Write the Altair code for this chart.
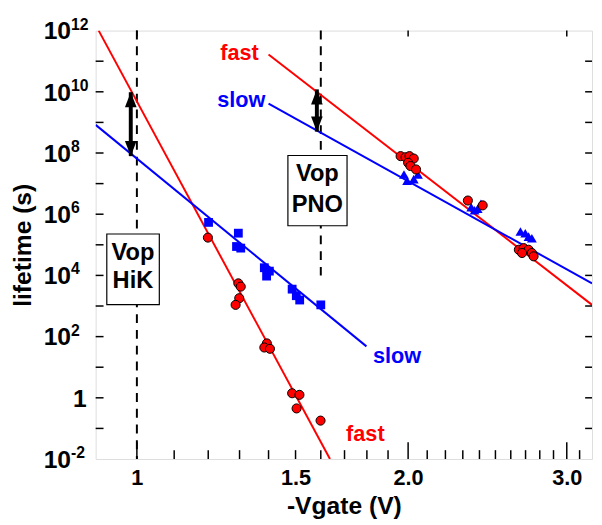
import altair as alt
import pandas as pd

# ---------------- data ----------------
fast_lo_x = [1.199, 1.296, 1.304, 1.299, 1.287, 1.394, 1.385, 1.405, 1.487, 1.515, 1.504, 1.599]
fast_lo_y = [1.72e5, 5.5e3, 4.3e3, 1.8e3, 1.09e3, 60, 44, 40, 1.41, 1.25, 0.45, 0.18]
slow_lo_x = [1.201, 1.296, 1.290, 1.304, 1.385, 1.403, 1.393, 1.487, 1.503, 1.516, 1.600]
slow_lo_y = [5.4e5, 2.4e5, 8.8e4, 7.8e4, 1.78e4, 1.38e4, 9.5e3, 3.56e3, 2.17e3, 1.57e3, 1.09e3]
fast_hi_x = [1.962, 1.987, 2.007, 2.029, 2.000, 2.012, 2.041, 2.330, 2.420,
             2.654, 2.687, 2.721, 2.744, 2.676, 2.756]
fast_hi_y = [7.9e7, 7.3e7, 7.9e7, 6.6e7, 4.8e7, 3.76e7, 2.9e7, 2.8e6, 1.94e6,
             6.9e4, 7.8e4, 6.9e4, 5.4e4, 5.4e4, 4.2e4]
slow_hi_x = [1.979, 1.995, 2.051, 2.029, 2.350, 2.389, 2.409, 2.370, 2.665, 2.698, 2.721, 2.744]
slow_hi_y = [2.0e7, 1.24e7, 2.0e7, 1.4e7, 1.7e6, 1.5e6, 2.2e6, 1.34e6, 2.7e5, 2.4e5, 1.85e5, 1.64e5]

fit_names = ["fast_lo", "slow_lo", "fast_hi", "slow_hi"]
fit_series = ["fast", "slow", "fast", "slow"]
fit_x = [[0.907, 1.638], [0.9, 1.798], [1.400, 3.2], [1.400, 3.2]]
fit_y = [[1e12, 1e-2], [8.3e8, 48], [1.66e11, 1.09e3], [4.1e9, 5.5e3]]

vop_x = [1.0, 1.6]
vop_top = [1e12, 1e12]
vop_bot = [1e-2, 1e4]

box_x1 = [0.926, 1.471]
box_x2 = [1.059, 1.711]
box_y1 = [2.26e5, 8.3e7]
box_y2 = [1.11e3, 4.2e5]
box_text = ["Vop", "HiK", "Vop", "PNO"]
box_text_x = [0.990, 0.990, 1.586, 1.586]
box_text_y = [5.5e4, 6.6e3, 2.0e7, 1.94e6]

arrow_x = [0.9845, 1.584]
arrow_top = [9.7e9, 1.2e10]
arrow_bot = [7.9e7, 5.0e8]

lab_text = ["fast", "slow", "slow", "fast"]
lab_x = [1.300, 1.306, 1.944, 1.793]
lab_y = [1.9e11, 5.3e9, 23, 0.066]

xtick_vals = [1, 1.5, 2, 3]
xtick_text = ["1", "1.5", "2.0", "3.0"]
x_major = [1, 2, 3]
x_minor = [1.1, 1.2, 1.3, 1.4, 1.5, 1.6, 1.7, 1.8, 1.9,
           2.1, 2.2, 2.3, 2.4, 2.5, 2.6, 2.7, 2.8, 2.9, 3.1]
ytick_vals = [1e-2, 1e2, 1e4, 1e6, 1e8, 1e10, 1e12]
ytick_base = ["10", "10", "10", "10", "10", "10", "10"]
ytick_exp = ["-2", "2", "4", "6", "8", "10", "12"]
yone_val = [1.0]
yone_text = ["1"]
y_decades = [10.0 ** e for e in range(-1, 12)]

# ---------------- styling ----------------
RED = "#ff0000"
BLUE = "#0000ff"
FONT = "Liberation Sans"
W, H = 504, 435

x_expr = "".join(
    f"abs(datum.value-{v})<1e-6?'{t}':" for v, t in zip(xtick_vals, xtick_text)
) + "''"

xs = alt.Scale(type="log", domain=[0.9, 3.2], nice=False)
ys = alt.Scale(type="log", domain=[1e-2, 1e12], nice=False)

xaxis = alt.Axis(values=xtick_vals, labelExpr=x_expr, ticks=False, tickSize=0,
                 domain=False, grid=False, title="-Vgate (V)",
                 labelFontSize=22, labelFontWeight="bold", labelPadding=9,
                 labelOverlap=False, labelColor="black",
                 titleFontSize=25, titleFontWeight="bold", titlePadding=5,
                 titleColor="black")
yaxis = alt.Axis(labels=False, ticks=False, tickSize=0, domain=False, grid=False,
                 title="lifetime (s)", titleFontSize=25, titleFontWeight="bold",
                 titlePadding=61, titleColor="black")


def X(f):
    return alt.X(f, type="quantitative", scale=xs, axis=xaxis)


def Y(f):
    return alt.Y(f, type="quantitative", scale=ys, axis=yaxis)


series_color = alt.Color("series:N", scale=alt.Scale(domain=["fast", "slow"], range=[RED, BLUE]),
                         legend=None)

# ---------------- tables ----------------
pts_fast = pd.DataFrame({"x": fast_lo_x + fast_hi_x, "y": fast_lo_y + fast_hi_y})
pts_sq = pd.DataFrame({"x": slow_lo_x, "y": slow_lo_y})
pts_tri = pd.DataFrame({"x": slow_hi_x, "y": slow_hi_y})

fit_rows = []
for n, s, xx, yy in zip(fit_names, fit_series, fit_x, fit_y):
    for a, b in zip(xx, yy):
        fit_rows.append({"fit": n, "series": s, "x": a, "y": b})
fits = pd.DataFrame(fit_rows)

vop = pd.DataFrame({"x": vop_x, "y": vop_top, "y2": vop_bot})
boxes = pd.DataFrame({"x": box_x1, "x2": box_x2, "y": box_y1, "y2": box_y2})
btext = pd.DataFrame({"x": box_text_x, "y": box_text_y, "t": box_text})
arrows = pd.DataFrame({"x": arrow_x, "y": arrow_top, "y2": arrow_bot})
labs = pd.DataFrame({"x": lab_x, "y": lab_y, "t": lab_text, "series": lab_text})
xmaj = pd.DataFrame({"x": x_major})
xmin_ = pd.DataFrame({"x": x_minor})
ydec = pd.DataFrame({"y": y_decades})
ylabs = pd.DataFrame({"y": ytick_vals, "base": ytick_base, "exp": ytick_exp})
yone = pd.DataFrame({"y": yone_val, "t": yone_text})

# ---------------- layers ----------------
vop_layer = alt.Chart(vop).mark_rule(color="black", strokeWidth=2, strokeDash=[9, 7]).encode(
    x=X("x"), y=Y("y"), y2=alt.Y2("y2"))

fit_layer = alt.Chart(fits).mark_line(strokeWidth=2, clip=True).encode(
    x=X("x"), y=Y("y"), color=series_color, detail="fit:N")

fast_layer = alt.Chart(pts_fast).mark_point(shape="circle", filled=True, size=85, fill=RED,
                                            stroke="black", strokeWidth=1, opacity=1).encode(
    x=X("x"), y=Y("y"))
sq_layer = alt.Chart(pts_sq).mark_point(shape="square", filled=True, size=80, color=BLUE,
                                        opacity=1).encode(x=X("x"), y=Y("y"))
tri_layer = alt.Chart(pts_tri).mark_point(shape="triangle-up", filled=True, size=100, color=BLUE,
                                          opacity=1).encode(x=X("x"), y=Y("y"))

box_layer = alt.Chart(boxes).mark_rect(fill="white", stroke="black", strokeWidth=1.2).encode(
    x=X("x"), x2=alt.X2("x2"), y=Y("y"), y2=alt.Y2("y2"))
btext_layer = alt.Chart(btext).mark_text(font=FONT, fontSize=24, fontWeight="bold",
                                         color="black", align="center", baseline="middle").encode(
    x=X("x"), y=Y("y"), text="t:N")

shaft_layer = alt.Chart(arrows).mark_rule(color="black", strokeWidth=4).encode(
    x=X("x"), y=Y("y"), y2=alt.Y2("y2"))
head_up = alt.Chart(arrows).mark_point(shape="M0,0L-0.5,1.3L0.5,1.3Z", filled=True, size=560,
                                       color="black", opacity=1).encode(x=X("x"), y=Y("y"))
head_dn = alt.Chart(arrows).mark_point(shape="M0,0L-0.5,-1.3L0.5,-1.3Z", filled=True, size=560,
                                       color="black", opacity=1).encode(x=X("x"), y=Y("y2"))

lab_layer = alt.Chart(labs).mark_text(font=FONT, fontSize=22, fontWeight="bold",
                                      align="center", baseline="middle").encode(
    x=X("x"), y=Y("y"), text="t:N", color=series_color)

# y tick labels: base and raised exponent
ybase_layer = alt.Chart(ylabs).mark_text(font=FONT, fontSize=25, fontWeight="bold", color="black",
                                         align="right", baseline="middle", dy=1).encode(
    y=Y("y"), x=alt.value(-25), text="base:N")
yexp_layer = alt.Chart(ylabs).mark_text(font=FONT, fontSize=16, fontWeight="bold", color="black",
                                        align="left", baseline="middle", dy=-6).encode(
    y=Y("y"), x=alt.value(-25), text="exp:N")
yone_layer = alt.Chart(yone).mark_text(font=FONT, fontSize=25, fontWeight="bold", color="black",
                                       align="right", baseline="middle", dy=1).encode(
    y=Y("y"), x=alt.value(-9), text="t:N")

# inward ticks
xmaj_bot = alt.Chart(xmaj).mark_rule(color="black", strokeWidth=1.5).encode(
    x=X("x"), y=alt.value(H), y2=alt.value(H - 17))
xmin_bot = alt.Chart(xmin_).mark_rule(color="black", strokeWidth=1.5).encode(
    x=X("x"), y=alt.value(H), y2=alt.value(H - 9))
xmaj_top = alt.Chart(xmaj).mark_rule(color="black", strokeWidth=1.5).encode(
    x=X("x"), y=alt.value(0), y2=alt.value(6))
y_left = alt.Chart(ydec).mark_rule(color="black", strokeWidth=1.5).encode(
    y=Y("y"), x=alt.value(0), x2=alt.value(8))
y_right = alt.Chart(ydec).mark_rule(color="black", strokeWidth=1.5).encode(
    y=Y("y"), x=alt.value(W), x2=alt.value(W - 7))

chart = alt.layer(
    vop_layer, fit_layer, sq_layer, tri_layer, fast_layer,
    box_layer, btext_layer, shaft_layer, head_up, head_dn, lab_layer,
    ybase_layer, yexp_layer, yone_layer,
    xmaj_bot, xmin_bot, xmaj_top, y_left, y_right,
).properties(
    width=W, height=H,
    autosize=alt.AutoSizeParams(type="none"),
    padding={"left": 89, "top": 19, "right": 2, "bottom": 60},
    background="white",
).configure_view(
    stroke="black", strokeWidth=2
).configure(
    font=FONT
)

chart.save("out.html", embed_options={"renderer": "svg", "actions": False})
